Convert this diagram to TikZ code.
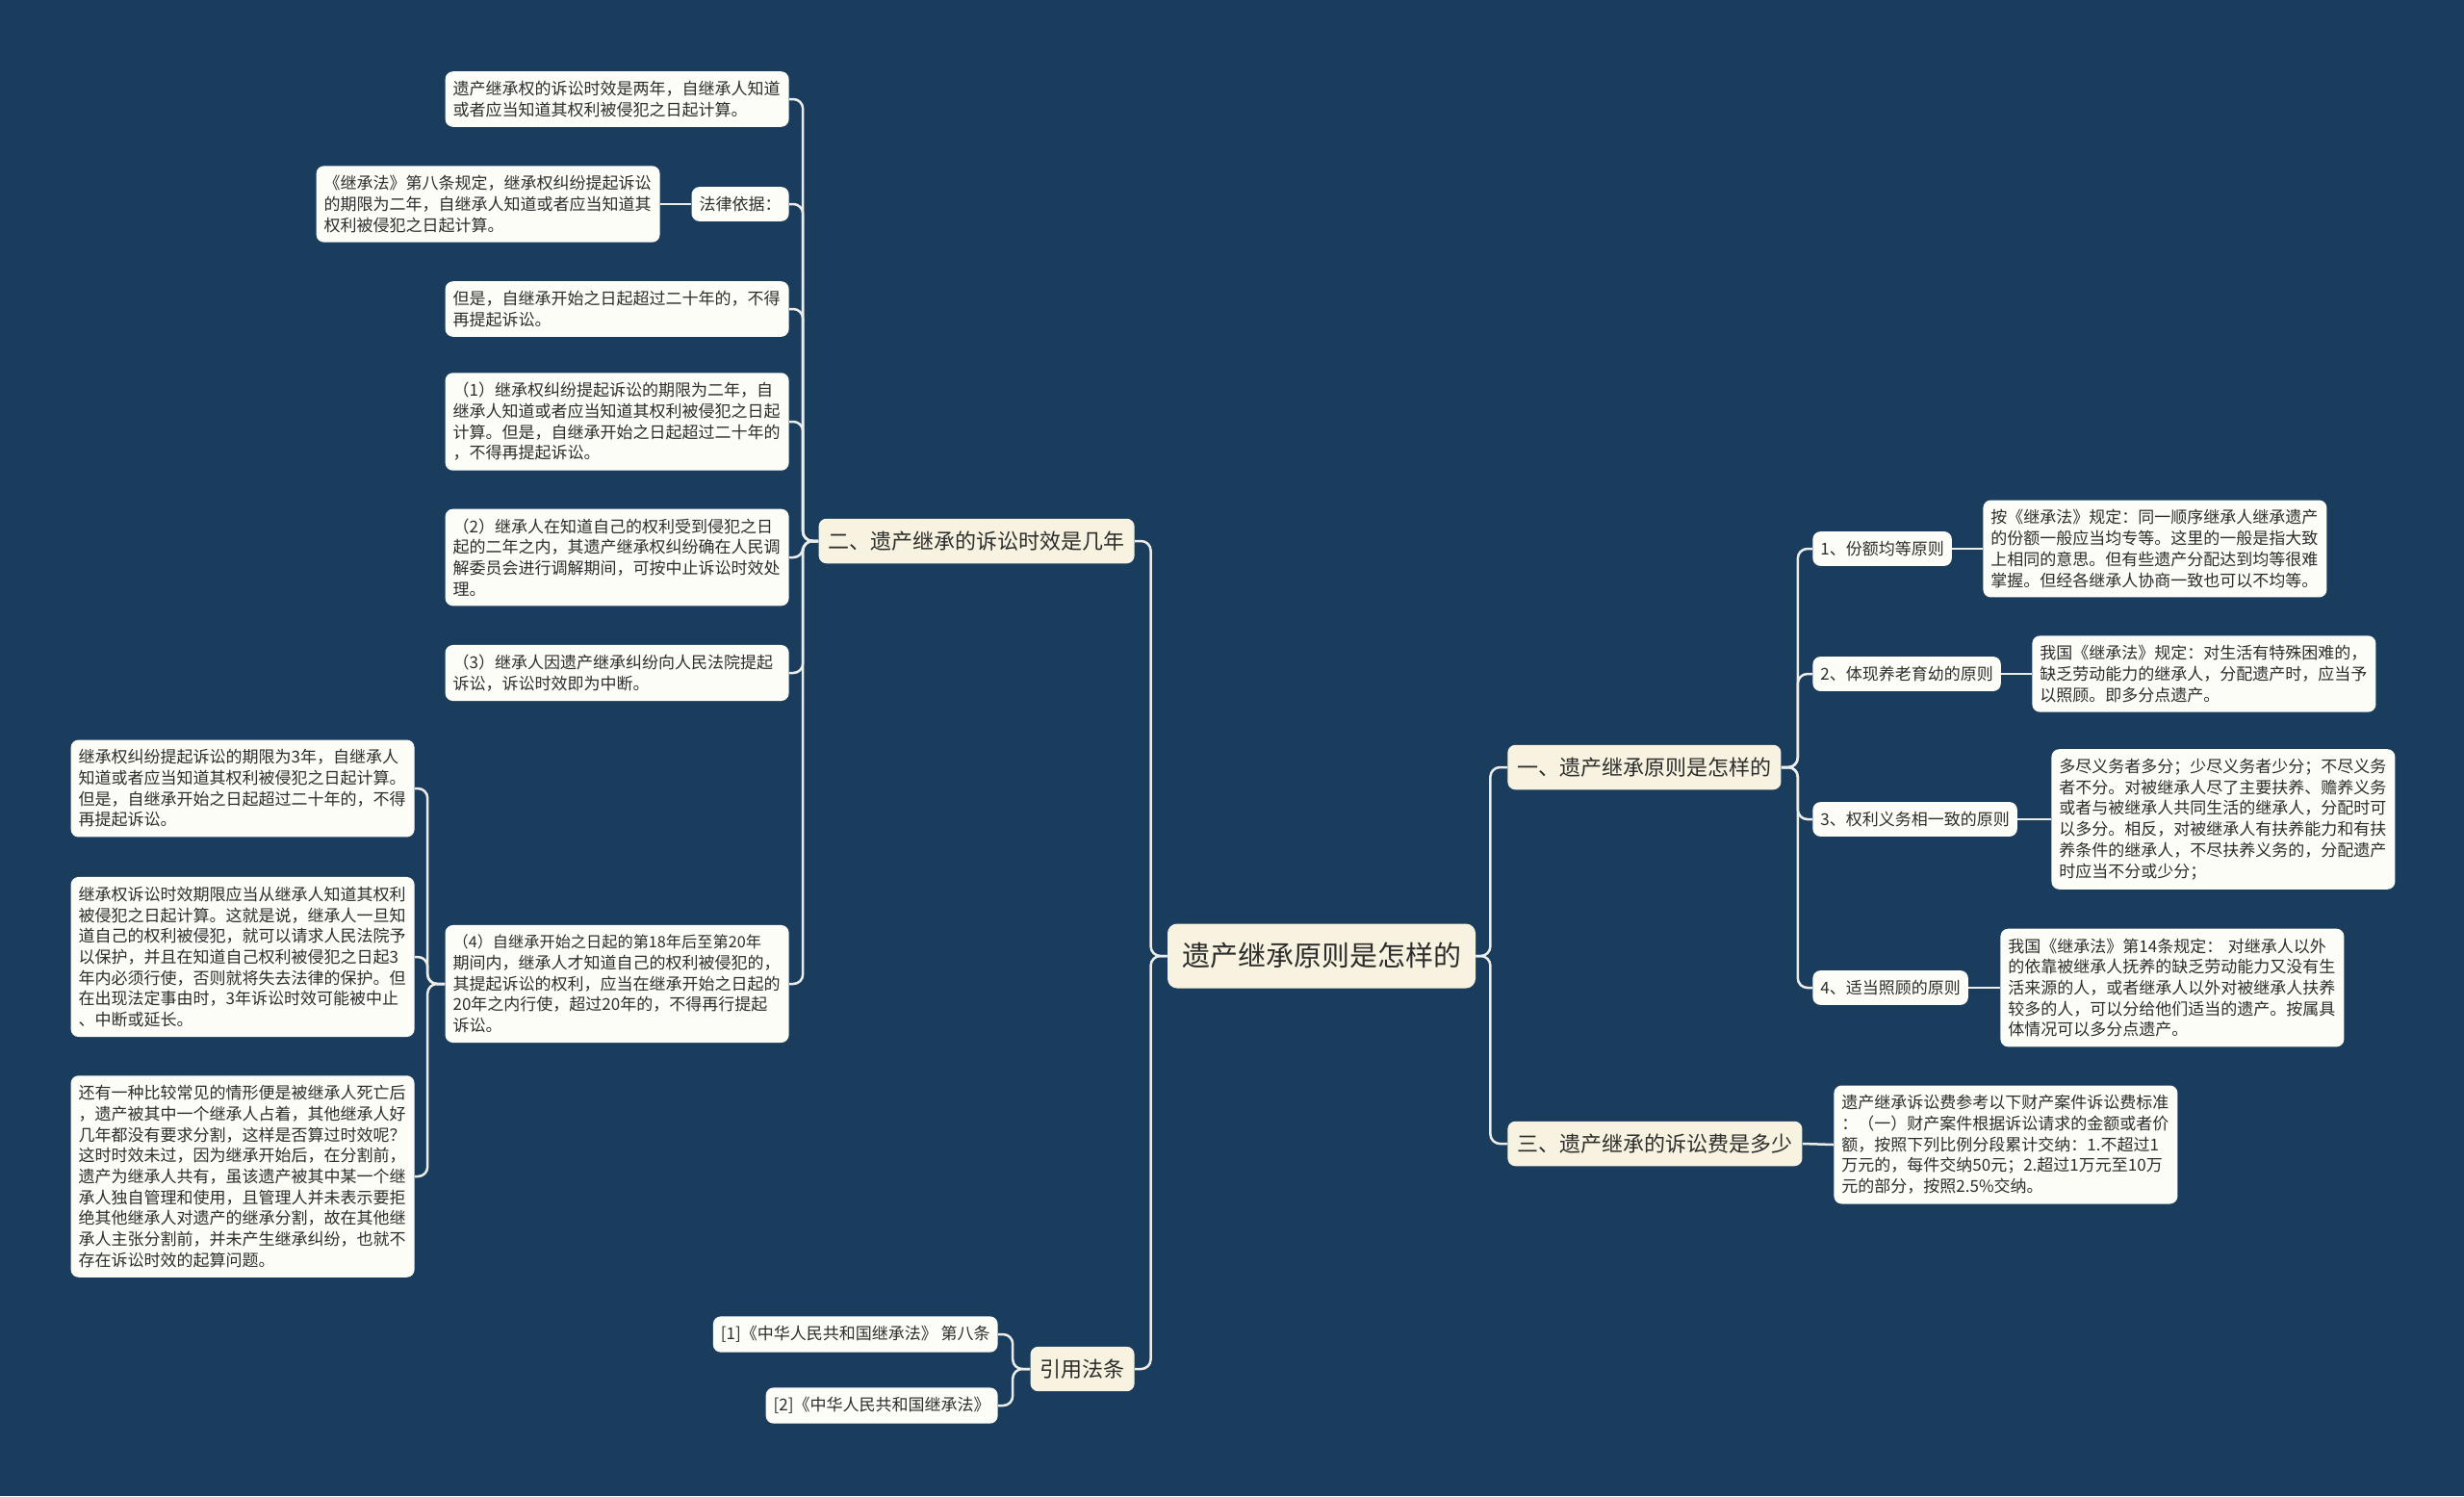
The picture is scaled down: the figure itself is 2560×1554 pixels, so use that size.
\documentclass[tikz,border=0pt]{standalone}
\usepackage{fontspec}
\setmainfont{Noto Sans CJK SC}
\definecolor{bgcol}{RGB}{26,61,94}
\definecolor{cream}{RGB}{248,243,224}
\definecolor{leaffill}{RGB}{253,253,248}
\definecolor{txt}{RGB}{45,45,45}
\definecolor{linecol}{RGB}{236,236,232}
\tikzset{
  base/.style={rounded corners=4pt, text=txt, inner xsep=4pt, inner ysep=5pt,
    font=\fontsize{8.5pt}{10.85pt}\selectfont},
  leaf/.style={base, fill=leaffill, align=left, text width=170.5pt},
  lab/.style={base, fill=leaffill},
  topic/.style={rounded corners=4pt, text=txt, fill=cream, inner xsep=5pt, inner ysep=6.5pt,
    font=\fontsize{11pt}{13pt}\selectfont},
  rootbox/.style={rounded corners=5pt, text=txt, fill=cream, inner xsep=7.5pt, inner ysep=10pt,
    font=\fontsize{14.5pt}{17pt}\selectfont},
  conn/.style={draw=linecol, line width=1.25pt, rounded corners=5pt}
}
\begin{document}
\begin{tikzpicture}[x=0.5pt,y=-0.5pt]
\fill[bgcol] (0,0) rectangle (2560,1554);

% root
\node[rootbox] (root) at (1373,993) {遗产继承原则是怎样的};

% level 1
\node[topic, anchor=west] (p1) at (1566,797) {一、遗产继承原则是怎样的};
\node[topic, anchor=west] (p3) at (1566,1188) {三、遗产继承的诉讼费是多少};
\node[topic, anchor=east] (p2) at (1179,562) {二、遗产继承的诉讼时效是几年};
\node[topic, anchor=east] (p4) at (1179,1422) {引用法条};

% right: principles
\node[lab, anchor=west] (a1) at (1883,570) {1、份额均等原则};
\node[lab, anchor=west] (a2) at (1883,700) {2、体现养老育幼的原则};
\node[lab, anchor=west] (a3) at (1883,851) {3、权利义务相一致的原则};
\node[lab, anchor=west] (a4) at (1883,1026) {4、适当照顾的原则};

\node[leaf, anchor=west] (a1l) at (2060,570) {按《继承法》规定：同一顺序继承人继承遗产\\的份额一般应当均专等。这里的一般是指大致\\上相同的意思。但有些遗产分配达到均等很难\\掌握。但经各继承人协商一致也可以不均等。};
\node[leaf, anchor=west] (a2l) at (2111,700) {我国《继承法》规定：对生活有特殊困难的，\\缺乏劳动能力的继承人，分配遗产时，应当予\\以照顾。即多分点遗产。};
\node[leaf, anchor=west] (a3l) at (2131,851) {多尽义务者多分；少尽义务者少分；不尽义务\\者不分。对被继承人尽了主要扶养、赡养义务\\或者与被继承人共同生活的继承人，分配时可\\以多分。相反，对被继承人有扶养能力和有扶\\养条件的继承人，不尽扶养义务的，分配遗产\\时应当不分或少分；};
\node[leaf, anchor=west] (a4l) at (2078,1026) {我国《继承法》第14条规定： 对继承人以外\\的依靠被继承人抚养的缺乏劳动能力又没有生\\活来源的人，或者继承人以外对被继承人扶养\\较多的人，可以分给他们适当的遗产。按属具\\体情况可以多分点遗产。};

\node[leaf, anchor=west] (p3l) at (1905,1189) {遗产继承诉讼费参考以下财产案件诉讼费标准\\：（一）财产案件根据诉讼请求的金额或者价\\额，按照下列比例分段累计交纳：1.不超过1\\万元的，每件交纳50元；2.超过1万元至10万\\元的部分，按照2.5\%交纳。};

% left: statute of limitation
\node[leaf, anchor=east] (b1) at (820,103) {遗产继承权的诉讼时效是两年，自继承人知道\\或者应当知道其权利被侵犯之日起计算。};
\node[lab, anchor=east] (b2) at (820,212) {法律依据：};
\node[leaf, anchor=east] (b2l) at (686,212) {《继承法》第八条规定，继承权纠纷提起诉讼\\的期限为二年，自继承人知道或者应当知道其\\权利被侵犯之日起计算。};
\node[leaf, anchor=east] (b3) at (820,321) {但是，自继承开始之日起超过二十年的，不得\\再提起诉讼。};
\node[leaf, anchor=east] (b4) at (820,438) {（1）继承权纠纷提起诉讼的期限为二年，自\\继承人知道或者应当知道其权利被侵犯之日起\\计算。但是，自继承开始之日起超过二十年的\\，不得再提起诉讼。};
\node[leaf, anchor=east] (b5) at (820,579) {（2）继承人在知道自己的权利受到侵犯之日\\起的二年之内，其遗产继承权纠纷确在人民调\\解委员会进行调解期间，可按中止诉讼时效处\\理。};
\node[leaf, anchor=east] (b6) at (820,699) {（3）继承人因遗产继承纠纷向人民法院提起\\诉讼，诉讼时效即为中断。};
\node[leaf, anchor=east] (b7) at (820,1022) {{\fontsize{8.1pt}{10.85pt}\selectfont（4）自继承开始之日起的第18年后至第20年}\\期间内，继承人才知道自己的权利被侵犯的，\\其提起诉讼的权利，应当在继承开始之日起的\\20年之内行使，超过20年的，不得再行提起\\诉讼。};

\node[leaf, anchor=east] (g1) at (431,819) {继承权纠纷提起诉讼的期限为3年，自继承人\\知道或者应当知道其权利被侵犯之日起计算。\\但是，自继承开始之日起超过二十年的，不得\\再提起诉讼。};
\node[leaf, anchor=east] (g2) at (431,994) {继承权诉讼时效期限应当从继承人知道其权利\\被侵犯之日起计算。这就是说，继承人一旦知\\道自己的权利被侵犯，就可以请求人民法院予\\以保护，并且在知道自己权利被侵犯之日起3\\年内必须行使，否则就将失去法律的保护。但\\在出现法定事由时，3年诉讼时效可能被中止\\、中断或延长。};
\node[leaf, anchor=east] (g3) at (431,1222) {还有一种比较常见的情形便是被继承人死亡后\\，遗产被其中一个继承人占着，其他继承人好\\几年都没有要求分割，这样是否算过时效呢？\\这时时效未过，因为继承开始后，在分割前，\\遗产为继承人共有，虽该遗产被其中某一个继\\承人独自管理和使用，且管理人并未表示要拒\\绝其他继承人对遗产的继承分割，故在其他继\\承人主张分割前，并未产生继承纠纷，也就不\\存在诉讼时效的起算问题。};

% citations
\node[lab, anchor=east] (c1) at (1037,1386) {[1]《中华人民共和国继承法》 第八条};
\node[lab, anchor=east] (c2) at (1037,1460) {[2]《中华人民共和国继承法》};

% connectors
\foreach \c in {p1,p3} \draw[conn] (root.east) -- ([xshift=7.5pt]root.east) |- (\c.west);
\foreach \c in {p2,p4} \draw[conn] (root.west) -- ([xshift=-8.5pt]root.west) |- (\c.east);
\foreach \c in {a1,a2,a3,a4} \draw[conn] (p1.east) -- ([xshift=8.5pt]p1.east) |- (\c.west);
\draw[conn] (a1.east) -- (a1l.west);
\draw[conn] (a2.east) -- (a2l.west);
\draw[conn] (a3.east) -- (a3l.west);
\draw[conn] (a4.east) -- (a4l.west);
\draw[conn] (p3.east) -- (p3l.west);
\foreach \c in {b1,b2,b3,b4,b5,b6,b7} \draw[conn] (p2.west) -- ([xshift=-8pt]p2.west) |- (\c.east);
\draw[conn] (b2.west) -- (b2l.east);
\foreach \c in {g1,g2,g3} \draw[conn] (b7.west) -- ([xshift=-9pt]b7.west) |- (\c.east);
\foreach \c in {c1,c2} \draw[conn] (p4.west) -- ([xshift=-9pt]p4.west) |- (\c.east);
\end{tikzpicture}
\end{document}
